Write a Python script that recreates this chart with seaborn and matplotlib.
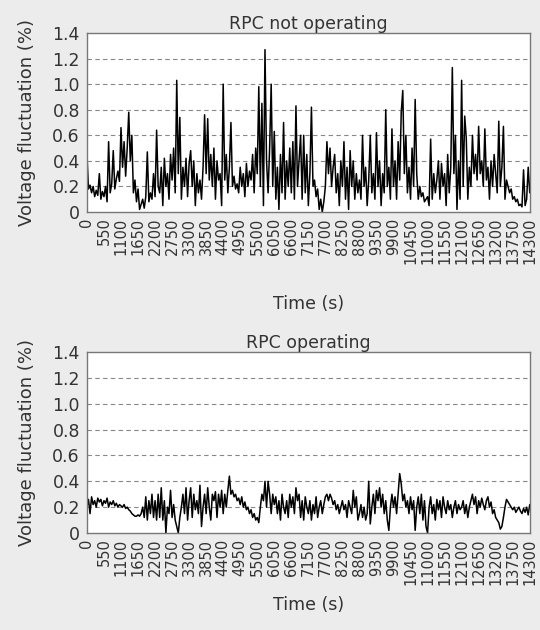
import numpy as np
import pandas as pd
import matplotlib
matplotlib.use("Agg")
import matplotlib.pyplot as plt
import seaborn as sns

# ---- data ----
time_s = np.arange(0, 14301, 50)

rpc_off = [
    0.45, 0.18, 0.21, 0.15, 0.2, 0.12, 0.17, 0.13, 0.3, 0.1, 0.16, 0.12, 0.2, 0.08, 0.55, 0.15, 0.22, 0.48, 0.18, 0.26, 0.32, 0.24,
    0.66, 0.35, 0.55, 0.28, 0.5, 0.78, 0.4, 0.6, 0.15, 0.25, 0.08, 0.18, 0.02, 0.06, 0.1, 0.03, 0.12, 0.47, 0.08, 0.15, 0.1, 0.3,
    0.12, 0.64, 0.2, 0.15, 0.35, 0.05, 0.42, 0.2, 0.3, 0.1, 0.45, 0.25, 0.5, 0.15, 1.03, 0.3, 0.74, 0.1, 0.35, 0.2, 0.42, 0.12,
    0.38, 0.48, 0.2, 0.4, 0.05, 0.3, 0.15, 0.25, 0.1, 0.35, 0.76, 0.3, 0.73, 0.25, 0.45, 0.2, 0.5, 0.1, 0.4, 0.25, 0.3, 0.05,
    1.0, 0.25, 0.45, 0.15, 0.35, 0.7, 0.2, 0.28, 0.18, 0.22, 0.15, 0.35, 0.2, 0.3, 0.12, 0.38, 0.2, 0.32, 0.25, 0.45, 0.15, 0.5,
    0.3, 0.98, 0.2, 0.85, 0.05, 1.27, 0.4, 0.15, 0.5, 1.0, 0.2, 0.63, 0.1, 0.35, 0.02, 0.45, 0.15, 0.7, 0.1, 0.4, 0.2, 0.5,
    0.15, 0.55, 0.1, 0.83, 0.2, 0.4, 0.6, 0.1, 0.6, 0.15, 0.45, 0.05, 0.3, 0.82, 0.2, 0.25, 0.12, 0.18, 0.02, 0.1, 0.0, 0.08,
    0.2, 0.55, 0.3, 0.5, 0.2, 0.35, 0.45, 0.15, 0.3, 0.05, 0.4, 0.2, 0.55, 0.1, 0.35, 0.02, 0.48, 0.2, 0.4, 0.1, 0.3, 0.15,
    0.25, 0.1, 0.6, 0.2, 0.35, 0.05, 0.25, 0.6, 0.15, 0.3, 0.1, 0.62, 0.2, 0.4, 0.05, 0.3, 0.15, 0.8, 0.2, 0.35, 0.1, 0.65,
    0.2, 0.4, 0.1, 0.55, 0.25, 0.78, 0.95, 0.3, 0.6, 0.15, 0.35, 0.1, 0.5, 0.2, 0.88, 0.3, 0.1, 0.2, 0.12, 0.15, 0.08, 0.1,
    0.12, 0.05, 0.57, 0.1, 0.3, 0.15, 0.25, 0.4, 0.1, 0.38, 0.2, 0.3, 0.05, 0.45, 0.15, 0.35, 1.13, 0.3, 0.6, 0.02, 0.4, 0.1,
    1.03, 0.2, 0.75, 0.58, 0.1, 0.35, 0.2, 0.6, 0.3, 0.45, 0.25, 0.67, 0.3, 0.4, 0.2, 0.65, 0.25, 0.35, 0.1, 0.4, 0.2, 0.45,
    0.3, 0.15, 0.71, 0.2, 0.35, 0.67, 0.1, 0.25, 0.2, 0.15, 0.18, 0.1, 0.12, 0.08, 0.1, 0.05, 0.06, 0.04, 0.33, 0.05, 0.1, 0.35,
    0.15,
]

rpc_on = [
    0.2, 0.26, 0.15, 0.28, 0.22, 0.25, 0.2, 0.27, 0.24, 0.26, 0.21, 0.25, 0.23, 0.27, 0.2, 0.24, 0.22, 0.25, 0.21, 0.23, 0.2, 0.22,
    0.21, 0.2, 0.22, 0.19, 0.2, 0.18, 0.17, 0.15, 0.14, 0.13, 0.13, 0.14, 0.13, 0.15, 0.2, 0.12, 0.28, 0.1, 0.25, 0.15, 0.3, 0.12,
    0.25, 0.1, 0.3, 0.12, 0.35, 0.1, 0.25, 0.0, 0.2, 0.15, 0.33, 0.12, 0.22, 0.1, 0.05, 0.0, 0.12, 0.2, 0.3, 0.15, 0.35, 0.1,
    0.25, 0.35, 0.12, 0.3, 0.18, 0.25, 0.15, 0.37, 0.05, 0.2, 0.3, 0.15, 0.35, 0.2, 0.1, 0.3, 0.25, 0.32, 0.12, 0.3, 0.2, 0.33,
    0.15, 0.3, 0.2, 0.33, 0.44, 0.3, 0.33, 0.28, 0.3, 0.25, 0.27, 0.22, 0.28, 0.2, 0.24, 0.18, 0.2, 0.15, 0.18, 0.12, 0.15, 0.1,
    0.12, 0.08, 0.2, 0.3, 0.25, 0.4, 0.2, 0.4, 0.3, 0.15, 0.3, 0.22, 0.28, 0.15, 0.25, 0.1, 0.3, 0.2, 0.15, 0.25, 0.12, 0.3,
    0.2, 0.28, 0.15, 0.35, 0.25, 0.3, 0.12, 0.25, 0.1, 0.28, 0.2, 0.15, 0.25, 0.1, 0.22, 0.15, 0.28, 0.12, 0.2, 0.25, 0.15, 0.22,
    0.28, 0.3, 0.25, 0.3, 0.27, 0.22, 0.25, 0.18, 0.22, 0.15, 0.2, 0.25, 0.18, 0.22, 0.12, 0.25, 0.2, 0.15, 0.33, 0.2, 0.28, 0.1,
    0.15, 0.22, 0.12, 0.2, 0.1, 0.15, 0.4, 0.07, 0.2, 0.3, 0.15, 0.33, 0.25, 0.35, 0.2, 0.3, 0.15, 0.25, 0.1, 0.02, 0.2, 0.3,
    0.2, 0.28, 0.15, 0.3, 0.46, 0.38, 0.25, 0.3, 0.2, 0.25, 0.15, 0.28, 0.18, 0.25, 0.02, 0.2, 0.28, 0.15, 0.3, 0.1, 0.25, 0.05,
    0.0, 0.2, 0.28, 0.15, 0.22, 0.1, 0.26, 0.18, 0.25, 0.12, 0.28, 0.2, 0.15, 0.25, 0.18, 0.22, 0.12, 0.2, 0.25, 0.15, 0.22, 0.18,
    0.2, 0.25, 0.15, 0.22, 0.12, 0.2, 0.25, 0.3, 0.22, 0.28, 0.15, 0.25, 0.2, 0.27, 0.22, 0.18, 0.25, 0.28, 0.2, 0.24, 0.15, 0.18,
    0.12, 0.1, 0.08, 0.03, 0.05, 0.12, 0.2, 0.26, 0.24, 0.22, 0.2, 0.18, 0.2, 0.16, 0.18, 0.2, 0.17, 0.15, 0.19, 0.16, 0.2, 0.14,
    0.22,
]

panel_titles = ["RPC not operating", "RPC operating"]
x_ticks = list(range(0, 14301, 550))
y_ticks = [0, 0.2, 0.4, 0.6, 0.8, 1.0, 1.2, 1.4]
y_tick_labels = ["0", "0.2", "0.4", "0.6", "0.8", "1.0", "1.2", "1.4"]

# ---- figure ----
sns.set_style("white")
plt.rcParams["font.family"] = ["DejaVu Sans"]
text_color = "#333333"

fig = plt.figure(figsize=(5.4, 6.3), dpi=100, facecolor="#ececec")
axes = [
    fig.add_axes([0.161, 0.6635, 0.82, 0.2841]),
    fig.add_axes([0.161, 0.154, 0.82, 0.287]),
]
xlabel_pads = [22, 8]

for ax, series, title, xpad in zip(axes, [rpc_off, rpc_on], panel_titles, xlabel_pads):
    df = pd.DataFrame({"Time (s)": time_s, "Voltage fluctuation (%)": series})
    ax.set_facecolor("white")
    sns.lineplot(data=df, x="Time (s)", y="Voltage fluctuation (%)", ax=ax,
                 color="black", linewidth=1.1)
    ax.set_xlim(0, 14300)
    ax.set_ylim(0, 1.4)
    ax.set_xticks(x_ticks)
    ax.set_xticklabels([str(t) for t in x_ticks], rotation=90, fontsize=10.5,
                       color=text_color)
    ax.set_yticks(y_ticks)
    ax.set_yticklabels(y_tick_labels, fontsize=12.5, color=text_color)
    ax.tick_params(axis="x", length=0, pad=4)
    ax.tick_params(axis="y", length=0, pad=5)
    for yv in y_ticks[1:-1]:
        ax.axhline(yv, color="#888888", linestyle=(0, (4, 3)), linewidth=0.8,
                   zorder=0)
    for s in ax.spines.values():
        s.set_color("#777777")
        s.set_linewidth(1.0)
    ax.set_title(title, fontsize=12.5, color=text_color, pad=3)
    ax.set_xlabel("Time (s)", fontsize=12.5, color=text_color, labelpad=xpad)
    ax.set_ylabel("Voltage fluctuation (%)", fontsize=13, color=text_color,
                  labelpad=12)

fig.savefig("out.png", dpi=100, facecolor=fig.get_facecolor())
